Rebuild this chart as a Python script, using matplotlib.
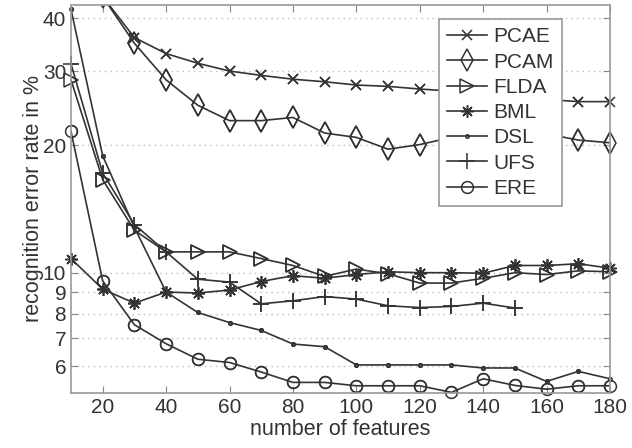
import numpy as np
import matplotlib
matplotlib.use('Agg')
import matplotlib.pyplot as plt

plt.rcParams['font.family'] = ['Liberation Sans', 'DejaVu Sans']

# nombre d'attributs
features = [10, 20, 30, 40, 50, 60, 70, 80, 90, 100, 110, 120, 130, 140, 150, 160, 170, 180]
features_ufs = features[:15]

# taux d'erreur (%)
pcae = [55, 45, 36.0, 33.0, 31.3, 30.0, 29.3, 28.7, 28.3, 27.8, 27.6, 27.2, 26.9, 26.5, 26.1, 25.7, 25.4, 25.4]
pcam = [55, 45, 34.9, 28.6, 24.9, 22.9, 22.9, 23.3, 21.4, 20.9, 19.6, 20.1, 20.9, 21.0, 21.2, 21.3, 20.6, 20.3]
flda = [28.6, 16.6, 12.6, 11.2, 11.2, 11.2, 10.8, 10.4, 9.8, 10.2, 9.94, 9.45, 9.45, 9.7, 10.0, 9.9, 10.1, 10.05]
bml = [10.8, 9.14, 8.47, 9.0, 8.95, 9.1, 9.53, 9.84, 9.7, 9.9, 10.05, 10.0, 10.0, 9.97, 10.4, 10.4, 10.5, 10.25]
dsl = [42, 18.9, 12.8, 9.0, 8.05, 7.62, 7.30, 6.78, 6.68, 6.05, 6.05, 6.05, 6.05, 5.95, 5.95, 5.53, 5.84, 5.61]
ufs = [31.2, 17.2, 13.0, 11.2, 9.65, 9.5, 8.44, 8.58, 8.78, 8.66, 8.35, 8.27, 8.32, 8.47, 8.25]
ere = [21.6, 9.56, 7.53, 6.79, 6.24, 6.13, 5.82, 5.50, 5.50, 5.40, 5.40, 5.40, 5.21, 5.61, 5.41, 5.30, 5.40, 5.40]

yticks = [6, 7, 8, 9, 10, 20, 30, 40]
xticks = [20, 40, 60, 80, 100, 120, 140, 160, 180]
ymin, ymax = 5.2, 43

col = '#333333'
asterisk = (8, 2, 0)

series = [
    ('PCAE', features, pcae, 'x', 7),
    ('PCAM', features, pcam, 'd', 11),
    ('FLDA', features, flda, '>', 10),
    ('BML', features, bml, asterisk, 9),
    ('DSL', features, dsl, '.', 5),
    ('UFS', features_ufs, ufs, '+', 11),
    ('ERE', features, ere, 'o', 8.5),
]

fig = plt.figure(figsize=(6.32, 4.48), dpi=100)
ax = fig.add_axes([71/632, 1-392.7/448, (610-71)/632, (392.7-5)/448])

for name, xs, ys, mk, ms in series:
    xs = np.array(xs)
    ys = np.array(ys)
    ax.plot(xs, ys, color=col, lw=1.2, marker=mk, ms=ms, mfc='none', mec=col,
            mew=1.1, label=name)
    ok = ys <= ymax
    ax.plot(xs[ok], ys[ok], ls='none', color=col, marker=mk, ms=ms, mfc='none',
            mec=col, mew=1.1, clip_on=False)

ax.set_yscale('log')
ax.set_xlim(10, 180)
ax.set_ylim(ymin, ymax)
ax.set_yticks(yticks, [str(t) for t in yticks])
ax.set_xticks(xticks, [str(t) for t in xticks])
ax.minorticks_off()
ax.yaxis.grid(True, ls=(0, (1, 3)), color='#bbbbbb', lw=1)
ax.tick_params(direction='in', top=True, right=True, labelsize=15,
               colors='#888888', labelcolor='#333333', length=5)
for s in ax.spines.values():
    s.set_color('#999999')
    s.set_linewidth(1.2)

ax.set_xlabel('number of features', fontsize=15.5, color='#333333', labelpad=2)
ax.set_ylabel('recognition error rate in %', fontsize=15.5, color='#333333', labelpad=-1)

leg = ax.legend(loc='upper right', bbox_to_anchor=(562/632, 1-19/448),
                bbox_transform=fig.transFigure, borderaxespad=0, fontsize=15,
                handlelength=1.9, handletextpad=0.3, labelspacing=0.3,
                fancybox=False, framealpha=1, edgecolor='#999999',
                borderpad=0.4)
leg.get_frame().set_linewidth(1.2)
for t in leg.get_texts():
    t.set_color('#333333')

fig.savefig('out.png', dpi=100, facecolor='white')
